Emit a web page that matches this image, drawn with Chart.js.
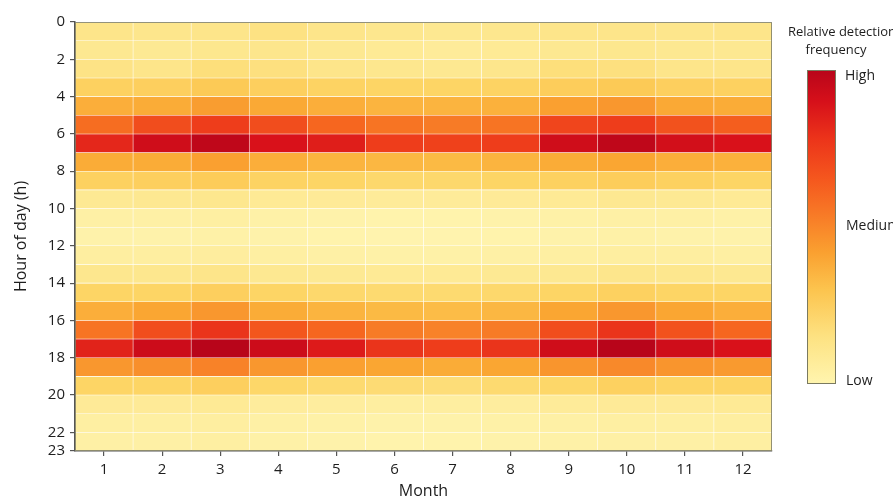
<!DOCTYPE html>
<html>
<head>
<meta charset="utf-8">
<script src="https://cdn.jsdelivr.net/npm/chart.js@4/dist/chart.umd.min.js"></script>
<style>
  html, body { margin: 0; padding: 0; background: #fff; }
  #wrap { width: 893px; height: 501px; }
</style>
</head>
<body>
<div id="wrap"><canvas id="myChart"></canvas></div>
<script>
// months on x, hours on y
const months = ['1', '2', '3', '4', '5', '6', '7', '8', '9', '10', '11', '12'];
const hours = [0, 1, 2, 3, 4, 5, 6, 7, 8, 9, 10, 11, 12, 13, 14, 15, 16, 17, 18, 19, 20, 21, 22];
const yTicks = [0, 2, 4, 6, 8, 10, 12, 14, 16, 18, 20, 22, 23];
const legendLabels = ['High', 'Medium', 'Low'];

// relative detection frequency (0 = low, 1 = high), one row per hour
const freq = [
    [0.20, 0.19, 0.20, 0.22, 0.20, 0.18, 0.17, 0.18, 0.20, 0.20, 0.19, 0.20],
    [0.17, 0.16, 0.18, 0.19, 0.17, 0.15, 0.13, 0.15, 0.17, 0.18, 0.17, 0.17],
    [0.21, 0.20, 0.24, 0.23, 0.20, 0.18, 0.17, 0.19, 0.24, 0.23, 0.20, 0.20],
    [0.32, 0.33, 0.36, 0.33, 0.31, 0.30, 0.30, 0.31, 0.34, 0.36, 0.33, 0.32],
    [0.47, 0.48, 0.53, 0.49, 0.47, 0.45, 0.45, 0.46, 0.52, 0.55, 0.49, 0.48],
    [0.68, 0.76, 0.80, 0.76, 0.70, 0.66, 0.64, 0.66, 0.78, 0.80, 0.75, 0.72],
    [0.85, 0.93, 0.98, 0.90, 0.87, 0.80, 0.79, 0.80, 0.93, 0.98, 0.92, 0.90],
    [0.48, 0.48, 0.52, 0.47, 0.45, 0.44, 0.43, 0.45, 0.48, 0.50, 0.47, 0.46],
    [0.32, 0.33, 0.35, 0.31, 0.30, 0.28, 0.28, 0.30, 0.32, 0.34, 0.32, 0.30],
    [0.16, 0.17, 0.18, 0.15, 0.14, 0.13, 0.13, 0.14, 0.15, 0.17, 0.16, 0.15],
    [0.08, 0.08, 0.09, 0.07, 0.06, 0.05, 0.05, 0.06, 0.07, 0.08, 0.08, 0.07],
    [0.06, 0.06, 0.07, 0.06, 0.05, 0.04, 0.04, 0.05, 0.06, 0.07, 0.06, 0.06],
    [0.10, 0.10, 0.11, 0.09, 0.08, 0.07, 0.07, 0.08, 0.09, 0.10, 0.10, 0.09],
    [0.18, 0.18, 0.20, 0.17, 0.16, 0.15, 0.15, 0.16, 0.17, 0.19, 0.18, 0.17],
    [0.30, 0.30, 0.33, 0.30, 0.28, 0.27, 0.27, 0.28, 0.30, 0.32, 0.30, 0.30],
    [0.47, 0.50, 0.55, 0.48, 0.45, 0.43, 0.42, 0.44, 0.50, 0.55, 0.50, 0.47],
    [0.66, 0.76, 0.82, 0.74, 0.70, 0.64, 0.62, 0.64, 0.76, 0.82, 0.75, 0.70],
    [0.86, 0.94, 1.00, 0.94, 0.88, 0.82, 0.80, 0.82, 0.93, 1.00, 0.93, 0.90],
    [0.55, 0.58, 0.62, 0.55, 0.52, 0.50, 0.48, 0.50, 0.56, 0.60, 0.56, 0.54],
    [0.30, 0.30, 0.33, 0.29, 0.27, 0.26, 0.25, 0.27, 0.29, 0.32, 0.30, 0.30],
    [0.14, 0.14, 0.15, 0.12, 0.11, 0.10, 0.10, 0.11, 0.13, 0.14, 0.14, 0.15],
    [0.09, 0.09, 0.10, 0.08, 0.07, 0.06, 0.06, 0.07, 0.08, 0.09, 0.09, 0.10],
    [0.08, 0.08, 0.09, 0.07, 0.06, 0.05, 0.05, 0.06, 0.07, 0.08, 0.08, 0.09]
];

// colour scale for the cells, low -> high
const stops = [
    [0.00, [255, 247, 184]],
    [0.10, [254, 238, 160]],
    [0.20, [253, 229, 138]],
    [0.30, [253, 213, 101]],
    [0.40, [252, 194, 76]],
    [0.50, [250, 166, 50]],
    [0.60, [248, 137, 42]],
    [0.70, [246, 102, 31]],
    [0.80, [238, 61, 27]],
    [0.90, [217, 17, 26]],
    [1.00, [184, 5, 26]]
];
// the colour bar in the figure is drawn with the high end stretched
const barStops = [
    [0.00, [255, 245, 175]],
    [0.15, [253, 226, 130]],
    [0.30, [252, 196, 78]],
    [0.42, [250, 160, 48]],
    [0.52, [248, 128, 40]],
    [0.65, [245, 88, 30]],
    [0.78, [236, 52, 26]],
    [0.90, [214, 16, 26]],
    [1.00, [184, 5, 26]]
];

function colorFor(v) {
    for (var i = 1; i < stops.length; i++) {
        if (v <= stops[i][0]) {
            var a = stops[i - 1], b = stops[i];
            var t = (v - a[0]) / (b[0] - a[0]);
            var c = a[1].map((x, k) => Math.round(x + (b[1][k] - x) * t));
            return 'rgb(' + c.join(',') + ')';
        }
    }
    return 'rgb(' + stops[stops.length - 1][1].join(',') + ')';
}

const fontFam = '"Open Sans", "Noto Sans", sans-serif';
const textColor = '#1e1e1e';

// frame + colour bar, drawn by hand
const extras = {
    id: 'extras',
    afterDatasetsDraw(chart) {
        const c = chart.ctx;
        const a = chart.chartArea;
        c.save();
        c.strokeStyle = 'rgba(120,120,95,0.8)';
        c.lineWidth = 1;
        c.strokeRect(a.left + 0.5, a.top + 0.5, a.right - a.left - 1, a.bottom - a.top - 1);
        c.restore();
    },
    afterDraw(chart) {
        const c = chart.ctx;
        const x0 = 807, x1 = 836, y0 = 70, y1 = 384;
        c.save();
        const g = c.createLinearGradient(0, y1, 0, y0);
        barStops.forEach(s => g.addColorStop(s[0], 'rgb(' + s[1].join(',') + ')'));
        c.fillStyle = g;
        c.fillRect(x0, y0, x1 - x0, y1 - y0);
        c.strokeStyle = '#7a7a60';
        c.lineWidth = 1;
        c.strokeRect(x0 + 0.5, y0 + 0.5, x1 - x0 - 1, y1 - y0 - 1);

        c.fillStyle = textColor;
        c.font = '13px ' + fontFam;
        c.textAlign = 'center';
        c.textBaseline = 'middle';
        c.fillText('Relative detection', 842, 32);
        c.fillText('frequency', 836, 50);
        c.textAlign = 'left';
        c.font = '14px ' + fontFam;
        c.fillText(legendLabels[0], 845, 76);
        c.fillText(legendLabels[1], 846, 226);
        c.fillText(legendLabels[2], 846, 381);
        c.restore();
    }
};

const datasets = hours.map((h, i) => ({
    label: 'Hour ' + h,
    data: freq[i].map(() => [h, h + 1]),
    backgroundColor: freq[i].map(colorFor),
    borderColor: 'rgba(255,255,255,0.35)',
    borderWidth: 0.6,
    borderSkipped: false,
    barPercentage: 1,
    categoryPercentage: 1,
    grouped: false
}));

let ctx = document.getElementById('myChart');
let myChart = new Chart(ctx, {
    type: 'bar',
    data: { labels: months, datasets: datasets },
    options: {
        responsive: true,
        maintainAspectRatio: false,
        animation: false,
        layout: { padding: { top: 22, right: 121, left: 0, bottom: 0 } },
        plugins: {
            legend: { display: false },
            tooltip: { enabled: false }
        },
        scales: {
            x: {
                type: 'category',
                offset: true,
                grid: { drawOnChartArea: false, offset: false, drawTicks: true, tickLength: 5, color: '#555', lineWidth: 1.2 },
                border: { display: true, color: '#555', width: 1.5 },
                ticks: { color: textColor, font: { size: 15, family: fontFam }, padding: 5 },
                title: { display: true, text: 'Month', color: textColor, font: { size: 16, family: fontFam }, padding: { top: 0, bottom: 0 } },
                afterFit(scale) { scale.height = 50; }
            },
            y: {
                type: 'linear',
                reverse: true,
                min: 0,
                max: 23,
                afterBuildTicks(scale) { scale.ticks = yTicks.map(v => ({ value: v })); },
                grid: { drawOnChartArea: false, drawTicks: true, tickLength: 5, color: '#555', lineWidth: 1.2 },
                border: { display: true, color: '#555', width: 1.5 },
                ticks: { color: textColor, font: { size: 15, family: fontFam }, padding: 5, autoSkip: false },
                title: { display: true, text: 'Hour of day (h)', color: textColor, font: { size: 16, family: fontFam }, padding: { top: 12, bottom: 4 } },
                afterFit(scale) { scale.width = 75; }
            }
        }
    },
    plugins: [extras]
});
</script>
</body>
</html>
